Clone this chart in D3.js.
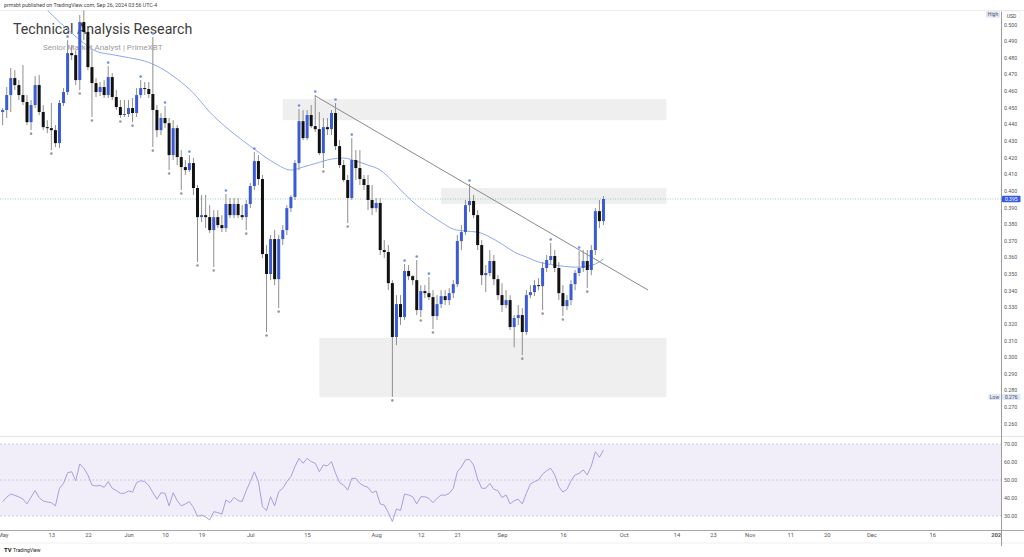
<!DOCTYPE html>
<html><head><meta charset="utf-8">
<script src="https://cdn.jsdelivr.net/npm/d3@7"></script>
<style>body{margin:0;background:#fff}svg{display:block}</style>
</head><body>
<svg id="c" width="1024" height="557"></svg>
<script>
// ---------- DATA ----------
const firstDay = [2024, 4, 1];   // 1 May 2024 (daily candles to 26 Sep 2024)
const lastDayExclusive = [2024, 8, 27];

const open = [0.4473,
0.4485,0.4575,0.4677,0.4635,0.4575,0.4533,0.4412,0.4515,0.4635,0.4473,
0.4382,0.4376,0.4364,0.4286,0.4527,0.4593,0.4827,0.4815,0.4665,0.5014,
0.4954,0.4743,0.4647,0.4593,0.4623,0.4575,0.4683,0.4563,0.4503,0.4455,
0.4461,0.4497,0.4467,0.4575,0.4617,0.4611,0.4581,0.4485,0.4364,0.4437,
0.4406,0.4214,0.4376,0.4202,0.4142,0.4124,0.4166,0.4016,0.3841,0.3853,
0.3841,0.3763,0.3841,0.3793,0.3775,0.3920,0.3853,0.3920,0.3853,0.3841,
0.3920,0.4028,0.4178,0.4070,0.3619,0.3499,0.3709,0.3468,0.3709,0.3763,
0.3895,0.3962,0.4166,0.4418,0.4316,0.4455,0.4388,0.4370,0.4226,0.4382,
0.4370,0.4467,0.4268,0.4154,0.4064,0.3956,0.4184,0.4136,0.4070,0.4034,
0.3944,0.3895,0.3926,0.3643,0.3631,0.3444,0.3120,0.3318,0.3240,0.3517,
0.3486,0.3462,0.3282,0.3396,0.3384,0.3360,0.3246,0.3318,0.3366,0.3342,
0.3384,0.3438,0.3697,0.3751,0.3913,0.3938,0.3853,0.3673,0.3492,0.3505,
0.3577,0.3468,0.3372,0.3312,0.3342,0.3180,0.3234,0.3252,0.3150,0.3372,
0.3390,0.3432,0.3426,0.3535,0.3583,0.3607,0.3535,0.3384,0.3306,0.3342,
0.3438,0.3505,0.3535,0.3577,0.3523,0.3643,0.3877,0.3817];

const close = [0.4485,
0.4575,0.4677,0.4635,0.4575,0.4533,0.4412,0.4515,0.4635,0.4473,0.4382,
0.4376,0.4364,0.4286,0.4527,0.4593,0.4827,0.4815,0.4665,0.5014,0.4954,
0.4743,0.4647,0.4593,0.4623,0.4575,0.4683,0.4563,0.4503,0.4455,0.4461,
0.4497,0.4467,0.4575,0.4617,0.4611,0.4581,0.4485,0.4364,0.4437,0.4406,
0.4214,0.4376,0.4202,0.4142,0.4124,0.4166,0.4016,0.3841,0.3853,0.3841,
0.3763,0.3841,0.3793,0.3775,0.3920,0.3853,0.3920,0.3853,0.3841,0.3920,
0.4028,0.4178,0.4070,0.3619,0.3499,0.3709,0.3468,0.3709,0.3763,0.3895,
0.3962,0.4166,0.4418,0.4316,0.4455,0.4388,0.4370,0.4226,0.4382,0.4370,
0.4467,0.4268,0.4154,0.4064,0.3956,0.4184,0.4136,0.4070,0.4034,0.3944,
0.3895,0.3926,0.3643,0.3631,0.3444,0.3120,0.3318,0.3240,0.3517,0.3486,
0.3462,0.3282,0.3396,0.3384,0.3360,0.3246,0.3318,0.3366,0.3342,0.3384,
0.3438,0.3697,0.3751,0.3913,0.3938,0.3853,0.3673,0.3492,0.3505,0.3577,
0.3468,0.3372,0.3312,0.3342,0.3180,0.3234,0.3252,0.3150,0.3372,0.3390,
0.3432,0.3426,0.3535,0.3583,0.3607,0.3535,0.3384,0.3306,0.3342,0.3438,
0.3505,0.3535,0.3577,0.3523,0.3643,0.3877,0.3817,0.3950];

const high = [0.4497,
0.4623,0.4737,0.4725,0.4665,0.4755,0.4575,0.4545,0.4689,0.4695,0.4515,
0.4424,0.4527,0.4394,0.4545,0.4617,0.4905,0.4875,0.4845,0.5056,0.5098,
0.4978,0.4845,0.4677,0.4653,0.4665,0.4749,0.4707,0.4605,0.4545,0.4545,
0.4545,0.4557,0.4617,0.4665,0.4653,0.4653,0.4924,0.4515,0.4467,0.4509,
0.4437,0.4424,0.4394,0.4244,0.4184,0.4214,0.4196,0.4034,0.3974,0.3974,
0.3913,0.3883,0.3883,0.3853,0.3980,0.3956,0.3956,0.3956,0.3913,0.3944,
0.4046,0.4232,0.4214,0.4094,0.3673,0.3733,0.3763,0.3733,0.3793,0.3913,
0.3974,0.4184,0.4491,0.4485,0.4485,0.4515,0.4575,0.4473,0.4437,0.4437,
0.4485,0.4527,0.4304,0.4184,0.4094,0.4316,0.4244,0.4244,0.4094,0.4094,
0.4034,0.3956,0.3956,0.3703,0.3673,0.3462,0.3372,0.3372,0.3559,0.3553,
0.3492,0.3583,0.3432,0.3432,0.3480,0.3402,0.3372,0.3402,0.3402,0.3414,
0.3462,0.3733,0.3793,0.3944,0.4040,0.3974,0.3883,0.3703,0.3553,0.3643,
0.3613,0.3492,0.3444,0.3402,0.3372,0.3252,0.3312,0.3294,0.3402,0.3432,
0.3462,0.3474,0.3571,0.3613,0.3685,0.3643,0.3571,0.3432,0.3372,0.3462,
0.3523,0.3637,0.3643,0.3643,0.3673,0.3895,0.3944,0.3968];

const low = [0.4394,
0.4437,0.4473,0.4605,0.4545,0.4515,0.4394,0.4364,0.4497,0.4455,0.4364,
0.4346,0.4244,0.4262,0.4256,0.4509,0.4575,0.4785,0.4635,0.4605,0.4905,
0.4725,0.4443,0.4563,0.4569,0.4557,0.4557,0.4545,0.4485,0.4437,0.4443,
0.4443,0.4412,0.4443,0.4557,0.4575,0.4557,0.4262,0.4322,0.4334,0.4376,
0.4124,0.4184,0.4154,0.4004,0.4094,0.4112,0.3974,0.3571,0.3811,0.3775,
0.3745,0.3541,0.3775,0.3751,0.3751,0.3835,0.3835,0.3835,0.3823,0.3763,
0.3895,0.4004,0.4034,0.3595,0.3150,0.3462,0.3432,0.3294,0.3673,0.3733,
0.3871,0.3944,0.4124,0.4304,0.4304,0.4376,0.4352,0.4214,0.4136,0.4334,
0.4334,0.4244,0.4136,0.4052,0.3805,0.3944,0.4064,0.4034,0.4004,0.3883,
0.3853,0.3871,0.3613,0.3595,0.3402,0.2760,0.3071,0.3192,0.3222,0.3462,
0.3432,0.3252,0.3240,0.3354,0.3342,0.3168,0.3222,0.3294,0.3312,0.3312,
0.3354,0.3420,0.3643,0.3733,0.3871,0.3835,0.3643,0.3432,0.3390,0.3486,
0.3432,0.3342,0.3270,0.3294,0.3162,0.3059,0.3192,0.3011,0.3132,0.3354,
0.3366,0.3402,0.3282,0.3511,0.3559,0.3511,0.3342,0.3246,0.3282,0.3312,
0.3402,0.3486,0.3511,0.3414,0.3492,0.3613,0.3775,0.3793];

// RSI(14) per candle
const rsi = [37.9,
40.5,42.2,41.5,40.6,39.4,36.7,40.5,44.1,40.2,38.3,
37.8,37.4,35.6,45.4,48.1,54.0,54.6,49.6,58.9,56.5,
52.8,47.2,46.7,47.0,45.9,49.1,45.4,44.1,42.6,42.6,
43.9,43.3,48.5,49.6,49.1,47.0,43.0,39.4,42.9,42.6,
35.6,42.9,38.5,35.6,36.7,37.9,34.8,29.8,30.5,29.5,
27.8,32.4,31.9,31.1,38.9,37.4,40.4,38.5,38.1,44.1,
49.1,54.6,49.1,35.2,33.0,40.7,35.6,43.5,45.4,49.1,
51.9,57.4,62.0,59.3,62.0,60.2,59.3,54.6,58.3,57.9,
60.2,53.7,48.5,47.2,44.4,50.9,50.9,48.1,46.7,45.9,
42.9,43.9,36.7,36.1,31.9,26.9,33.9,33.0,42.2,41.7,
40.7,36.7,40.7,40.7,39.8,37.4,39.8,41.7,41.5,42.6,
45.4,54.6,57.2,61.2,61.4,58.3,50.6,45.4,45.4,48.1,
44.8,44.1,40.2,41.7,36.7,38.5,39.3,36.7,42.6,47.8,
49.1,50.0,53.3,55.2,56.5,52.8,46.3,43.3,44.8,49.6,
52.8,53.7,55.6,52.8,57.8,65.7,62.6,66.7];

// moving average read at candle positions (index into candles)
const maIndex = [11,14,17,20,23,27,31,35,39,43,47,51,55,59,63,67,71,74,77,81,84,87,90,93,96,99,102,105,108,111,114,117,120,123,126,129,132,135,138,141,144,146,148];
const maValue = [0.5086,0.5014,0.4948,0.4887,0.4839,0.4818,0.4800,0.4779,0.4737,0.4671,0.4587,0.4473,0.4382,0.4304,0.4232,0.4166,0.4124,0.4142,0.4163,0.4190,0.4196,0.4178,0.4154,0.4124,0.4058,0.3980,0.3913,0.3859,0.3811,0.3769,0.3757,0.3751,0.3721,0.3679,0.3631,0.3601,0.3571,0.3556,0.3546,0.3540,0.3546,0.3559,0.3589];

// pivot markers (index into candles)
const pivotHighIdx = [16,26,34,37,40,46,55,62,73,77,82,86,99,102,105,115,135,142];
const pivotLowIdx = [7,12,19,22,29,32,37,41,44,48,52,60,65,68,79,85,96,103,106,128,133,138,144];

// zones
const zoneStart = ["2024-07-09","2024-08-17","2024-07-18"];
const zoneEnd   = ["2024-10-11T12:00","2024-10-11T12:00","2024-10-11T12:00"];
const zoneTop   = [0.4551,0.4016,0.3115];
const zoneBottom= [0.4424,0.3920,0.2759];

// trend line
const trendDates = ["2024-07-17","2024-10-07"];
const trendPrices = [0.4570,0.3402];

// axes
const priceTicks = [0.26,0.27,0.28,0.29,0.30,0.31,0.32,0.33,0.34,0.35,0.36,0.37,0.38,0.39,0.40,0.41,0.42,0.43,0.44,0.45,0.46,0.47,0.48,0.49,0.50];
const rsiTicks = [30,40,50,60,70];
const rsiBandLevels = [30,50,70];
const timeTickDates = ["2024-05-01","2024-05-13","2024-05-22","2024-06-01","2024-06-10","2024-06-19","2024-07-01","2024-07-15","2024-08-01","2024-08-12","2024-08-21","2024-09-01","2024-09-16","2024-10-01","2024-10-14","2024-10-23","2024-11-01","2024-11-11","2024-11-20","2024-12-01","2024-12-16","2025-01-01"];
const timeTickLabels = ["May","13","22","Jun","10","19","Jul","15","Aug","12","21","Sep","16","Oct","14","23","Nov","11","20","Dec","16","2025"];

// ---------- DRAW ----------
const FONT = "Roboto, 'Noto Sans', sans-serif";
const svg = d3.select("#c").style("font-family", FONT);
const parseD = s => new Date(s.length > 10 ? s + ":00Z" : s + "T00:00:00Z");
const dates = d3.utcDay.range(new Date(Date.UTC(...firstDay)), new Date(Date.UTC(...lastDayExclusive)));
const candles = dates.map((d, i) => ({d, o: open[i], h: high[i], l: low[i], c: close[i], r: rsi[i]}));

const PLOT_R = 1001, MAIN_T = 10.5, MAIN_B = 436.5, RSI_T = 437, RSI_B = 530.5;
const x = d3.scaleUtc().domain([new Date(Date.UTC(2024,4,2)), new Date(Date.UTC(2025,0,1))]).range([6.7, 997.3]);
const y = d3.scaleLinear().domain([0.26, 0.49]).range([423.5, 41]);
const yr = d3.scaleLinear().domain([30, 70]).range([516, 444]);

const defs = svg.append("defs");
defs.append("clipPath").attr("id","mainClip").append("rect").attr("x",0).attr("y",MAIN_T).attr("width",PLOT_R).attr("height",MAIN_B-MAIN_T);
defs.append("clipPath").attr("id","rsiClip").append("rect").attr("x",0).attr("y",RSI_T).attr("width",PLOT_R).attr("height",RSI_B-RSI_T);
defs.append("clipPath").attr("id","timeClip").append("rect").attr("x",0).attr("y",RSI_B).attr("width",PLOT_R).attr("height",20);

// header text
svg.append("text").attr("x",4).attr("y",7).attr("font-size",5.3).attr("fill","#444")
  .text("prmxbt published on TradingView.com, Sep 26, 2024 03:56 UTC-4");
svg.append("line").attr("x1",0).attr("x2",1024).attr("y1",MAIN_T).attr("y2",MAIN_T).attr("stroke","#ececec");

const main = svg.append("g").attr("clip-path","url(#mainClip)");

// watermark titles (under marks)
main.append("text").attr("x",13).attr("y",33.5).attr("font-size",14.2).attr("fill","#3d3d3d").text("Technical Analysis Research");
main.append("text").attr("x",43).attr("y",50).attr("font-size",8).attr("fill","#9b9b9b").text("Senior Market Analyst | PrimeXBT");

// zones
main.selectAll("rect.zone").data(zoneStart.map((s,i)=>({s:parseD(s),e:parseD(zoneEnd[i]),t:zoneTop[i],b:zoneBottom[i]})))
  .join("rect").attr("class","zone")
  .attr("x",d=>x(d.s)).attr("width",d=>x(d.e)-x(d.s))
  .attr("y",d=>y(d.t)).attr("height",d=>y(d.b)-y(d.t))
  .attr("fill","rgba(120,123,134,0.12)");

// current price line
const lastClose = close[close.length-1];
main.append("line").attr("x1",0).attr("x2",PLOT_R).attr("y1",y(lastClose)).attr("y2",y(lastClose))
  .attr("stroke","#86c5b2").attr("stroke-width",0.8).attr("stroke-dasharray","1,1.5");

// moving average
const maLine = d3.line().x(d=>x(dates[d[0]])).y(d=>y(d[1])).curve(d3.curveMonotoneX);
main.append("path").datum(maIndex.map((k,i)=>[k,maValue[i]])).attr("d",maLine)
  .attr("fill","none").attr("stroke","#8ea7f2").attr("stroke-width",1);

// trend line
main.append("line")
  .attr("x1",x(parseD(trendDates[0]))).attr("y1",y(trendPrices[0]))
  .attr("x2",x(parseD(trendDates[1]))).attr("y2",y(trendPrices[1]))
  .attr("stroke","#8a8a8a").attr("stroke-width",1);

// candles
const cg = main.append("g");
cg.selectAll("line.wick").data(candles).join("line").attr("class","wick")
  .attr("x1",d=>x(d.d)).attr("x2",d=>x(d.d)).attr("y1",d=>y(d.h)).attr("y2",d=>y(d.l))
  .attr("stroke","#8f8f8f").attr("stroke-width",1);
cg.selectAll("rect.body").data(candles).join("rect").attr("class","body")
  .attr("x",d=>x(d.d)-1.5).attr("width",3)
  .attr("y",d=>y(Math.max(d.o,d.c)))
  .attr("height",d=>Math.max(1,Math.abs(y(d.o)-y(d.c))))
  .attr("fill",d=>d.c>=d.o?"#3b5bd6":"#111111");

// pivot markers
cg.selectAll("circle.ph").data(pivotHighIdx.map(k=>candles[k])).join("circle").attr("class","ph")
  .attr("cx",d=>x(d.d)).attr("cy",d=>y(d.h)-3.5).attr("r",1.3).attr("fill","#6f8ff0");
cg.selectAll("circle.pl").data(pivotLowIdx.map(k=>candles[k])).join("circle").attr("class","pl")
  .attr("cx",d=>x(d.d)).attr("cy",d=>y(d.l)+3.5).attr("r",1.3).attr("fill","#9a9a9a");

// High / Low labels
const loVal = d3.min(low);
function tag(xr, yc, txt, w, fill, color){
  svg.append("rect").attr("x",xr).attr("y",yc-3.2).attr("width",w).attr("height",6.4).attr("fill",fill).attr("rx",0.8);
  svg.append("text").attr("x",xr+w/2).attr("y",yc+1.8).attr("text-anchor","middle").attr("font-size",5).attr("fill",color).text(txt);
}

// ---- RSI pane ----
svg.append("line").attr("x1",0).attr("x2",1024).attr("y1",MAIN_B).attr("y2",MAIN_B).attr("stroke","#e3e3e3");
const rg = svg.append("g").attr("clip-path","url(#rsiClip)");
rg.append("rect").attr("x",0).attr("width",PLOT_R).attr("y",yr(70)).attr("height",yr(30)-yr(70)).attr("fill","#f1eef9");
rg.selectAll("line.lvl").data(rsiBandLevels).join("line").attr("class","lvl")
  .attr("x1",0).attr("x2",PLOT_R).attr("y1",d=>yr(d)).attr("y2",d=>yr(d))
  .attr("stroke","#c4c2cc").attr("stroke-width",0.8).attr("stroke-dasharray","2,2");
rg.append("path").datum(candles).attr("d",d3.line().x(d=>x(d.d)).y(d=>yr(d.r)))
  .attr("fill","none").attr("stroke","#ab9ce0").attr("stroke-width",1);

// ---- axes ----
svg.append("line").attr("x1",0).attr("x2",1024).attr("y1",RSI_B).attr("y2",RSI_B).attr("stroke","#a8a8a8");
svg.append("line").attr("x1",0).attr("x2",1024).attr("y1",543).attr("y2",543).attr("stroke","#f0f0f0");

const pa = svg.append("g").attr("transform",`translate(${PLOT_R+3},0)`)
  .call(d3.axisRight(y).tickValues(priceTicks).tickSize(0).tickPadding(0).tickFormat(d3.format(".3f")));
pa.select(".domain").remove();
pa.selectAll("text").attr("font-size",5.3).attr("fill","#555").attr("font-family",FONT);

const ra = svg.append("g").attr("transform",`translate(${PLOT_R+3},0)`)
  .call(d3.axisRight(yr).tickValues(rsiTicks).tickSize(0).tickPadding(0).tickFormat(d3.format(".2f")));
ra.select(".domain").remove();
ra.selectAll("text").attr("font-size",5.3).attr("fill","#555").attr("font-family",FONT);

const ta = svg.append("g").attr("clip-path","url(#timeClip)").append("g").attr("transform",`translate(0,${RSI_B+2.5})`)
  .call(d3.axisBottom(x).tickValues(timeTickDates.map(parseD)).tickSize(0).tickPadding(0)
    .tickFormat((d,i)=>timeTickLabels[i]));
ta.select(".domain").remove();
ta.selectAll("text").attr("font-size",5.8).attr("fill","#555").attr("font-family",FONT)
  .attr("font-weight",(d,i)=>timeTickLabels[i]==="2025"?"bold":"normal");

// price axis line
svg.append("line").attr("x1",PLOT_R+0.5).attr("x2",PLOT_R+0.5).attr("y1",MAIN_T+1).attr("y2",546).attr("stroke","#9c9c9c").attr("stroke-width",1);

// USD box
svg.append("rect").attr("x",1003).attr("y",11.5).attr("width",17).attr("height",9).attr("fill","#fff").attr("stroke","#eee").attr("stroke-width",0.5).attr("rx",1);
svg.append("text").attr("x",1011.5).attr("y",18).attr("text-anchor","middle").attr("font-size",5).attr("fill","#444").text("USD");

// High / Low tags
tag(986, 14.5, "High", 14, "#dfe8f7", "#555");
tag(988.5, y(loVal), "Low", 12, "#dfe8f7", "#555");
tag(1002, y(loVal), d3.format(".3f")(loVal), 18.5, "#dfe8f7", "#444");
// current price tag
tag(1002, y(lastClose), d3.format(".3f")(lastClose), 18.5, "#3358e6", "#fff");

// TradingView logo
svg.append("text").attr("x",4).attr("y",552).attr("font-size",6).attr("font-weight","bold").attr("fill","#131722").text("TV");
svg.append("text").attr("x",13).attr("y",552).attr("font-size",5).attr("fill","#131722").text("TradingView");
</script>
</body></html>
